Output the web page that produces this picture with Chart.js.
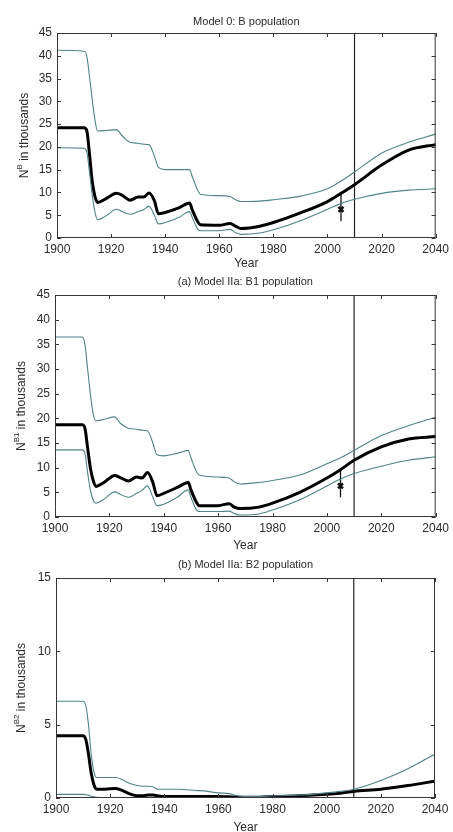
<!DOCTYPE html>
<html>
<head>
<meta charset="utf-8">
<script src="https://cdn.jsdelivr.net/npm/chart.js@4"></script>
<style>
  body { margin: 0; background: #fff; }
  .panel { position: absolute; left: 0; width: 453px; }
</style>
</head>
<body>
<div class="panel" style="top:0;height:270px"><canvas id="c1"></canvas></div>
<div class="panel" style="top:270px;height:280px"><canvas id="c2"></canvas></div>
<div class="panel" style="top:550px;height:282px"><canvas id="c3"></canvas></div>
<script>
// years (shared by all three panels)
const years = [1900, 1910, 1911, 1912, 1913, 1914, 1915, 1918, 1922, 1924, 1927, 1930, 1932, 1934, 1936, 1937.5,
  1940, 1945, 1949, 1950, 1952, 1953, 1960, 1964, 1966, 1968, 1975, 1980, 1990, 2000, 2005, 2010, 2020, 2030, 2040];
const xTicks = [1900, 1920, 1940, 1960, 1980, 2000, 2020, 2040];

// Model 0: B population
const meanB = [24.2, 24.2, 23.6, 18.5, 12.5, 9.2, 7.8, 8.6, 9.8, 9.4, 8.3, 9.0, 9.0, 9.9, 8.2, 5.3,
  5.6, 6.6, 7.7, 6.2, 3.6, 2.9, 2.8, 3.2, 2.6, 2.1, 2.6, 3.4, 5.5, 8.0, 9.8, 11.7, 16.0, 19.3, 20.5];
const upperB = [41.2, 41.0, 40.0, 35.5, 30.5, 26.0, 23.5, 23.6, 23.8, 22.5, 21.0, 20.8, 20.6, 20.5, 18.0, 15.5,
  15.0, 15.0, 15.0, 13.5, 10.5, 9.6, 9.3, 9.1, 8.4, 8.0, 8.1, 8.4, 9.2, 10.8, 12.5, 14.5, 18.6, 21.0, 22.8];
const lowerB = [19.8, 19.7, 19.0, 14.5, 9.5, 5.8, 4.0, 4.8, 6.3, 5.8, 5.2, 5.8, 6.2, 7.0, 5.0, 3.1,
  3.4, 4.5, 5.8, 4.5, 2.0, 1.6, 1.6, 1.9, 1.2, 0.8, 1.1, 1.8, 3.8, 6.3, 7.6, 8.5, 9.8, 10.5, 10.8];
const obsB = [2005, 6.3, 3.8, 9.4]; // year, value, low, high

// Model IIa: B1 population
const meanB1 = [18.7, 18.7, 18.0, 14.0, 10.0, 7.5, 6.2, 7.0, 8.4, 8.0, 7.3, 8.1, 7.9, 9.0, 7.0, 4.3,
  4.8, 6.0, 7.0, 5.5, 3.0, 2.3, 2.3, 2.7, 2.0, 1.7, 2.0, 2.8, 5.0, 7.9, 9.6, 11.5, 14.2, 15.8, 16.3];
const upperB1 = [36.5, 36.5, 35.0, 30.0, 25.0, 21.0, 19.5, 19.8, 20.3, 19.0, 18.0, 17.8, 17.6, 17.5, 15.0, 12.6,
  12.4, 12.9, 13.5, 12.0, 9.2, 8.5, 8.1, 7.9, 7.1, 6.7, 7.0, 7.4, 8.5, 10.8, 12.0, 13.5, 16.5, 18.5, 20.2];
const lowerB1 = [13.6, 13.6, 13.0, 9.0, 5.5, 3.5, 2.8, 3.6, 5.1, 4.6, 4.0, 4.8, 5.4, 6.3, 4.0, 2.3,
  2.6, 4.0, 5.5, 4.0, 1.5, 1.1, 1.1, 1.2, 0.7, 0.4, 0.6, 1.4, 3.5, 6.3, 7.7, 8.8, 10.3, 11.5, 12.2];
const obsB1 = [2005, 6.3, 4.1, 9.5];

// Model IIa: B2 population
const meanB2 = [4.25, 4.25, 4.0, 3.0, 1.7, 0.9, 0.6, 0.6, 0.65, 0.55, 0.3, 0.15, 0.15, 0.2, 0.2, 0.15,
  0.1, 0.1, 0.1, 0.1, 0.1, 0.1, 0.1, 0.08, 0.06, 0.05, 0.05, 0.1, 0.15, 0.25, 0.33, 0.45, 0.6, 0.85, 1.15];
const upperB2 = [6.6, 6.6, 6.3, 5.0, 3.0, 1.8, 1.4, 1.4, 1.4, 1.3, 1.0, 0.85, 0.8, 0.8, 0.75, 0.6,
  0.6, 0.6, 0.55, 0.55, 0.5, 0.5, 0.35, 0.3, 0.2, 0.12, 0.1, 0.15, 0.2, 0.35, 0.45, 0.6, 1.2, 2.0, 3.0];
const lowerB2 = [0.25, 0.25, 0.22, 0.18, 0.12, 0.08, 0.05, 0.03, 0.02, 0.02, 0.02, 0.02, 0.02, 0.02, 0.02, 0.02,
  0.02, 0.02, 0.02, 0.02, 0.02, 0.02, 0.02, 0.02, 0.02, 0.02, 0.02, 0.02, 0.02, 0.02, 0.02, 0.02, 0.02, 0.02, 0.02];

const projStart = 2010;

const FONT = '"Liberation Sans", Arial, sans-serif';
const TEXT = '#2b2b2b';
const BAND = '#4f8384';

function toPts(vals) {
  return years.map((y, i) => ({ x: y, y: vals[i] }));
}

// draws titles, frame and inward ticks (matlab look)
const decor = {
  id: 'decor',
  afterDatasetsDraw(chart, args, o) {
    const ctx = chart.ctx;
    const a = chart.chartArea;
    const xs = chart.scales.x, ys = chart.scales.y;
    ctx.save();
    ctx.strokeStyle = '#3a3434';
    ctx.lineWidth = 1;
    ctx.strokeRect(a.left + 0.5, a.top + 0.5, a.right - a.left - 1, a.bottom - a.top - 1);
    ctx.beginPath();
    xs.ticks.forEach(t => {
      const px = Math.round(xs.getPixelForValue(t.value)) + 0.5;
      ctx.moveTo(px, a.bottom); ctx.lineTo(px, a.bottom - 4);
      ctx.moveTo(px, a.top); ctx.lineTo(px, a.top + 4);
    });
    ys.ticks.forEach(t => {
      const py = Math.round(ys.getPixelForValue(t.value)) + 0.5;
      ctx.moveTo(a.left, py); ctx.lineTo(a.left + 4, py);
      ctx.moveTo(a.right, py); ctx.lineTo(a.right - 4, py);
    });
    ctx.stroke();

    ctx.fillStyle = TEXT;
    ctx.textAlign = 'center';
    ctx.textBaseline = 'middle';
    ctx.font = '11px ' + FONT;
    ctx.fillText(o.title, (a.left + a.right) / 2, o.titleY);
    ctx.font = '12px ' + FONT;
    ctx.fillText('Year', (a.left + a.right) / 2, o.yearY);

    // y label with superscript
    const cy = (a.top + a.bottom) / 2;
    ctx.translate(o.labelX, cy);
    ctx.rotate(-Math.PI / 2);
    ctx.textAlign = 'left';
    ctx.font = '12px ' + FONT;
    const wN = ctx.measureText('N').width;
    const wRest = ctx.measureText(' in thousands').width;
    ctx.font = '8px ' + FONT;
    const wSup = ctx.measureText(o.sup).width;
    let x0 = -(wN + wSup + wRest) / 2;
    ctx.font = '12px ' + FONT;
    ctx.fillText('N', x0, 0);
    ctx.font = '8px ' + FONT;
    ctx.fillText(o.sup, x0 + wN, -5);
    ctx.font = '12px ' + FONT;
    ctx.fillText(' in thousands', x0 + wN + wSup, 0);
    ctx.restore();
  }
};

function makePanel(id, p) {
  const H = p.height;
  const datasets = [
    { data: toPts(p.upper), borderColor: BAND, borderWidth: 1.1 },
    { data: toPts(p.lower), borderColor: BAND, borderWidth: 1.1 },
    { data: toPts(p.mean), borderColor: '#000', borderWidth: 3 },
    { data: [{ x: projStart, y: 0 }, { x: projStart, y: p.yMax }], borderColor: '#2a2222', borderWidth: 1.2, cubicInterpolationMode: 'default' }
  ];
  if (p.obs) {
    datasets.push({ data: [{ x: p.obs[0], y: p.obs[3] }, { x: p.obs[0], y: p.obs[2] }], borderColor: '#111', borderWidth: 1.3, cubicInterpolationMode: 'default' });
    datasets.push({ data: [{ x: p.obs[0], y: p.obs[1] }], showLine: false, pointRadius: 3.5, pointStyle: 'crossRot',
      pointBorderColor: '#111', pointBorderWidth: 2.5 });
  }
  new Chart(document.getElementById(id), {
    type: 'line',
    data: { datasets },
    plugins: [decor],
    options: {
      responsive: true,
      maintainAspectRatio: false,
      animation: false,
      events: [],
      layout: { padding: { top: p.area.top, right: 453 - p.area.right, left: 0, bottom: 0 } },
      elements: {
        point: { radius: 0 },
        line: { cubicInterpolationMode: 'monotone', fill: false, borderCapStyle: 'round' }
      },
      plugins: {
        legend: { display: false },
        tooltip: { enabled: false },
        decor: { title: p.title, titleY: p.titleY, yearY: p.yearY, labelX: p.labelX, sup: p.sup }
      },
      scales: {
        x: {
          type: 'linear', min: 1900, max: 2040,
          afterBuildTicks: s => { s.ticks = xTicks.map(v => ({ value: v })); },
          afterFit: s => { s.height = H - p.area.bottom; },
          grid: { display: false, drawTicks: false },
          border: { display: false },
          ticks: { padding: 4, color: TEXT, font: { family: FONT, size: 12 }, maxRotation: 0, autoSkip: false,
            callback: v => String(v) }
        },
        y: {
          min: 0, max: p.yMax,
          afterFit: s => { s.width = p.area.left; },
          grid: { display: false, drawTicks: false },
          border: { display: false },
          ticks: { stepSize: p.yStep, padding: 5, color: TEXT, font: { family: FONT, size: 12 } }
        }
      }
    }
  });
}

makePanel('c1', {
  height: 270, area: { left: 57, top: 33, right: 441, bottom: 238 },
  yMax: 45, yStep: 5, title: 'Model 0: B population', titleY: 22, yearY: 264, labelX: 25, sup: 'B',
  mean: meanB, upper: upperB, lower: lowerB, obs: obsB
});
makePanel('c2', {
  height: 280, area: { left: 55, top: 25, right: 437, bottom: 247 },
  yMax: 45, yStep: 5, title: '(a) Model IIa: B1 population', titleY: 12, yearY: 276, labelX: 22, sup: 'B1',
  mean: meanB1, upper: upperB1, lower: lowerB1, obs: obsB1
});
makePanel('c3', {
  height: 282, area: { left: 56, top: 28, right: 435, bottom: 248 },
  yMax: 15, yStep: 5, title: '(b) Model IIa: B2 population', titleY: 15, yearY: 278, labelX: 22, sup: 'B2',
  mean: meanB2, upper: upperB2, lower: lowerB2, obs: null
});
</script>
</body>
</html>
